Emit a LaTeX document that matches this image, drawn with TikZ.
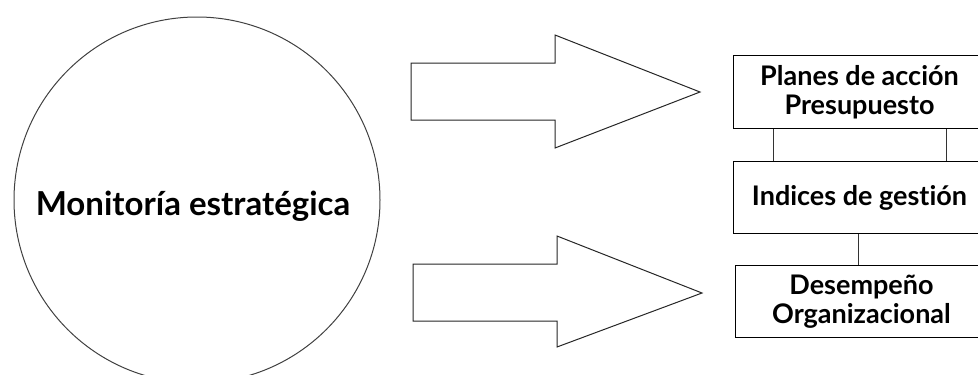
\documentclass[tikz,border=0pt]{standalone}
\usepackage{fontspec}
\setmainfont{Lato}[Ligatures={NoCommon,NoContextual}]
\usetikzlibrary{calc}
\begin{document}
\begin{tikzpicture}[x=1pt,y=-1pt,
  boxst/.style={draw=black,line width=1pt,minimum width=252pt,inner sep=0pt,align=center,font=\bfseries\fontsize{27}{29}\selectfont,anchor=north west},
  arrowst/.style={draw=black!85,line width=1pt,fill=white},
  linkst/.style={draw=black!80,line width=1pt}]
\useasboundingbox (0,0) rectangle (978,375);
\clip (0,0) rectangle (978,375);
% circle
\node[draw=black!75,line width=1pt,circle,minimum size=366pt,inner sep=0pt] (mon) at (197,200) {};
\node[font=\bfseries\fontsize{33}{36}\selectfont] (montext) at (193,206) {Monitoría estratégica};
% arrows
\draw[arrowst] (411,63) -- (555,63) -- (555,35) -- (700,92) -- (555,148) -- (555,120) -- (411,120) -- cycle;
\draw[arrowst] (413,264) -- (557,264) -- (557,236) -- (702,293) -- (557,347) -- (557,321) -- (413,321) -- cycle;
% boxes
\node[boxst,minimum height=73pt] (plan) at (733,55) {Planes de acción\\Presupuesto};
\node[boxst,minimum height=72pt] (ind) at (733,161) {Indices de gestión};
\node[boxst,minimum height=72pt] (des) at (735,265) {Desempeño\\Organizacional};
% connectors
\draw[linkst] ([xshift=40pt]plan.south west) -- ([xshift=40pt]ind.north west);
\draw[linkst] ([xshift=213pt]plan.south west) -- ([xshift=213pt]ind.north west);
\draw[linkst] ([xshift=125pt]ind.south west) -- ([xshift=123pt]des.north west);
\end{tikzpicture}
\end{document}
